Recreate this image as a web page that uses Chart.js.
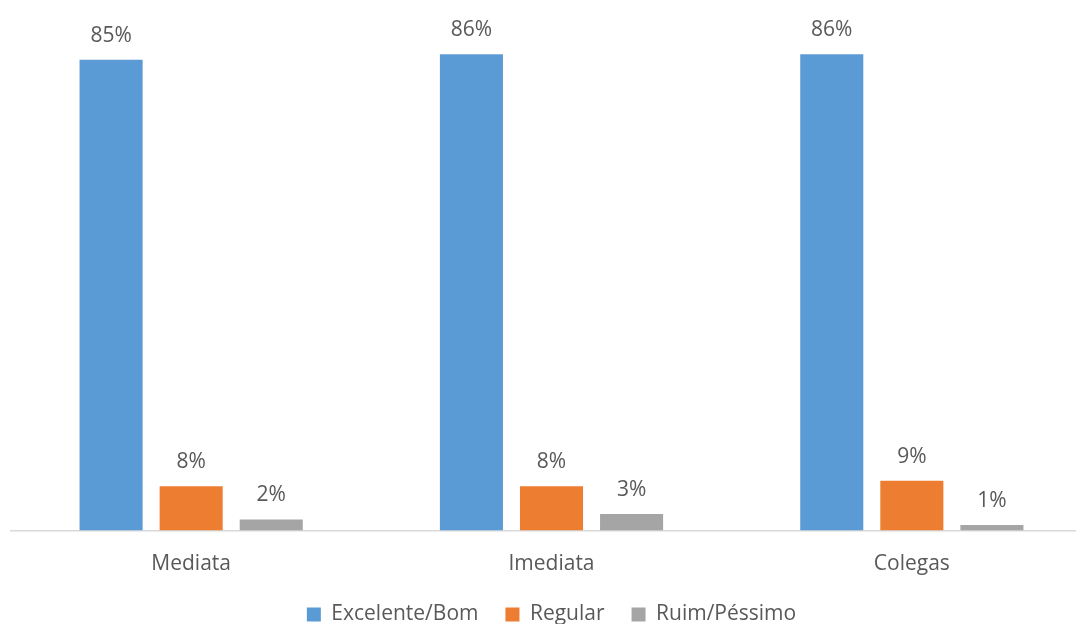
<!DOCTYPE html>
<html>
<head>
<meta charset="utf-8">
<script src="https://cdn.jsdelivr.net/npm/chart.js@4/dist/chart.umd.min.js"></script>
<style>
  html, body { margin: 0; padding: 0; background: #fff; overflow: hidden; }
  #wrap { width: 1100px; height: 635px; position: relative; }
</style>
</head>
<body>
<div id="wrap"><canvas id="chart"></canvas></div>
<script>
const categories = ['Mediata', 'Imediata', 'Colegas'];
const seriesNames = ['Excelente/Bom', 'Regular', 'Ruim/Péssimo'];
const excelenteBom = [85, 86, 86];
const regular = [8, 8, 9];
const ruimPessimo = [2, 3, 1];
const colors = ['#5B9BD5', '#ED7D31', '#A5A5A5'];

const textColor = '#595959';
const fontFamily = '"Open Sans", "Segoe UI", sans-serif';

// draws the % labels over each bar
const barLabels = {
    id: 'barLabels',
    afterDatasetsDraw(chart) {
        const ctx = chart.ctx;
        ctx.save();
        ctx.font = '21px ' + fontFamily;
        ctx.fillStyle = textColor;
        ctx.textAlign = 'center';
        ctx.textBaseline = 'middle';
        chart.data.datasets.forEach((ds, i) => {
            chart.getDatasetMeta(i).data.forEach((bar, j) => {
                ctx.fillText(ds.data[j] + '%', bar.x, bar.y - 24);
            });
        });
        ctx.restore();
    }
};

new Chart(document.getElementById('chart'), {
    type: 'bar',
    data: {
        labels: categories,
        datasets: [
            { label: seriesNames[0], data: excelenteBom, backgroundColor: colors[0] },
            { label: seriesNames[1], data: regular, backgroundColor: colors[1] },
            { label: seriesNames[2], data: ruimPessimo, backgroundColor: colors[2] }
        ]
    },
    options: {
        responsive: true, maintainAspectRatio: false,
        animation: false,
        categoryPercentage: 0.6667,
        barPercentage: 0.7875,
        layout: { padding: { top: 32, left: 11, right: 8, bottom: 0 } },
        scales: {
            x: {
                grid: { display: false, drawTicks: false },
                border: { display: true, color: '#D9D9D9', width: 1.5 },
                ticks: { color: textColor, font: { family: fontFamily, size: 21 }, padding: 21 },
                afterFit(scale) { scale.height = 46.5; }
            },
            y: { display: false, min: 0, max: 90 }
        },
        plugins: {
            legend: {
                position: 'bottom',
                labels: {
                    color: textColor,
                    font: { family: fontFamily, size: 21 },
                    boxWidth: 14, boxHeight: 14,
                    padding: 27
                }
            },
            tooltip: { enabled: false }
        }
    },
    plugins: [barLabels]
});
</script>
</body>
</html>
